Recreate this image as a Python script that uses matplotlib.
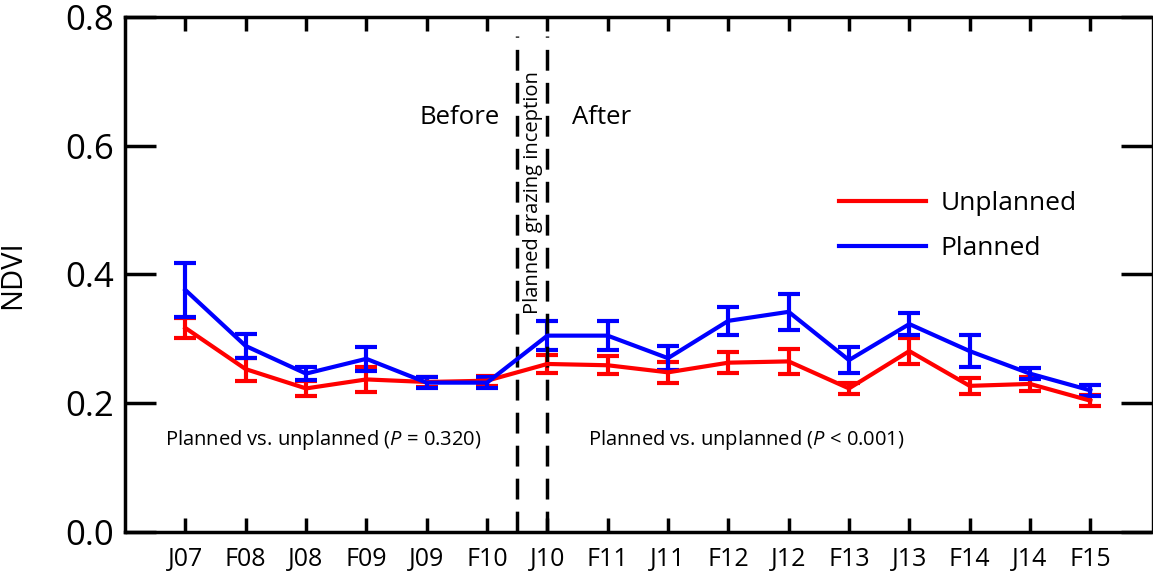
import matplotlib
matplotlib.use('Agg')
import matplotlib.pyplot as plt

plt.rcParams['font.family'] = ['Open Sans', 'DejaVu Sans']
plt.rcParams['mathtext.fontset'] = 'custom'
plt.rcParams['mathtext.it'] = 'Open Sans:italic'
plt.rcParams['mathtext.rm'] = 'Open Sans'

# --- datos ---
periods = ['J07', 'F08', 'J08', 'F09', 'J09', 'F10', 'J10', 'F11',
           'J11', 'F12', 'J12', 'F13', 'J13', 'F14', 'J14', 'F15']
unplanned = [0.317, 0.253, 0.223, 0.237, 0.233, 0.235, 0.261, 0.259,
             0.248, 0.263, 0.265, 0.223, 0.281, 0.227, 0.230, 0.204]
unplanned_err = [0.015, 0.018, 0.011, 0.020, 0.008, 0.008, 0.014, 0.014,
                 0.016, 0.016, 0.020, 0.008, 0.020, 0.012, 0.011, 0.009]
planned = [0.376, 0.289, 0.246, 0.269, 0.232, 0.232, 0.305, 0.305,
           0.270, 0.328, 0.342, 0.267, 0.323, 0.281, 0.246, 0.220]
planned_err = [0.042, 0.019, 0.010, 0.019, 0.008, 0.008, 0.022, 0.022,
               0.019, 0.022, 0.028, 0.020, 0.017, 0.025, 0.009, 0.009]
inception = [5.5, 6.0]

x = list(range(len(periods)))

fig = plt.figure(figsize=(11.53, 5.85), dpi=100)
ax = fig.add_axes([0.1084, 0.0906, 0.8906, 0.8804])

eb_u = ax.errorbar(x, unplanned, yerr=unplanned_err, color='#ff0000', lw=3,
                   capsize=8, capthick=3, elinewidth=3, label='Unplanned')
eb_p = ax.errorbar(x, planned, yerr=planned_err, color='#0000ff', lw=3,
                   capsize=8, capthick=3, elinewidth=3, label='Planned')

# Líneas de inicio del pastoreo planificado
for xv in inception:
    ax.vlines(xv, 0, 0.77, colors='k', lw=2.5, linestyles=(0, (6, 3.5)))

ax.text(4.54, 0.644, 'Before', ha='center', va='center', fontsize=18.5)
ax.text(6.9, 0.644, 'After', ha='center', va='center', fontsize=18.5)
ax.text(5.77, 0.528, 'Planned grazing inception', rotation=90,
        ha='center', va='center', fontsize=14.5)
ax.text(2.29, 0.143, 'Planned vs. unplanned ($\\mathit{P}$ = 0.320)',
        ha='center', va='center', fontsize=14.5)
ax.text(9.3, 0.143, 'Planned vs. unplanned ($\\mathit{P}$ < 0.001)',
        ha='center', va='center', fontsize=14.5)

ax.legend([eb_u[0], eb_p[0]], ['Unplanned', 'Planned'], frameon=False,
          loc='center left', bbox_to_anchor=(0.695, 0.594), fontsize=19,
          borderaxespad=0, borderpad=0,
          handlelength=3.3, handletextpad=0.57, labelspacing=0.75)

ax.set_xlim(-1, 16.02)
ax.set_ylim(0, 0.8)
ax.set_xticks(x)
ax.set_xticklabels(periods)
ax.set_yticks([0.0, 0.2, 0.4, 0.6, 0.8])
ax.set_yticklabels(['0.0', '0.2', '0.4', '0.6', '0.8'])
ax.tick_params(axis='y', direction='in', length=22, width=2.5,
               labelsize=25, right=True, pad=8)
ax.tick_params(axis='x', direction='in', length=10, width=2.5,
               labelsize=18, top=True, pad=11)
ax.set_ylabel('NDVI', fontsize=21)
ax.yaxis.set_label_coords(-0.0955, 0.5)

for side in ['left', 'bottom', 'top']:
    ax.spines[side].set_linewidth(2.5)
ax.spines['right'].set_linewidth(1)

plt.savefig('out.png', dpi=100)
plt.close(fig)
